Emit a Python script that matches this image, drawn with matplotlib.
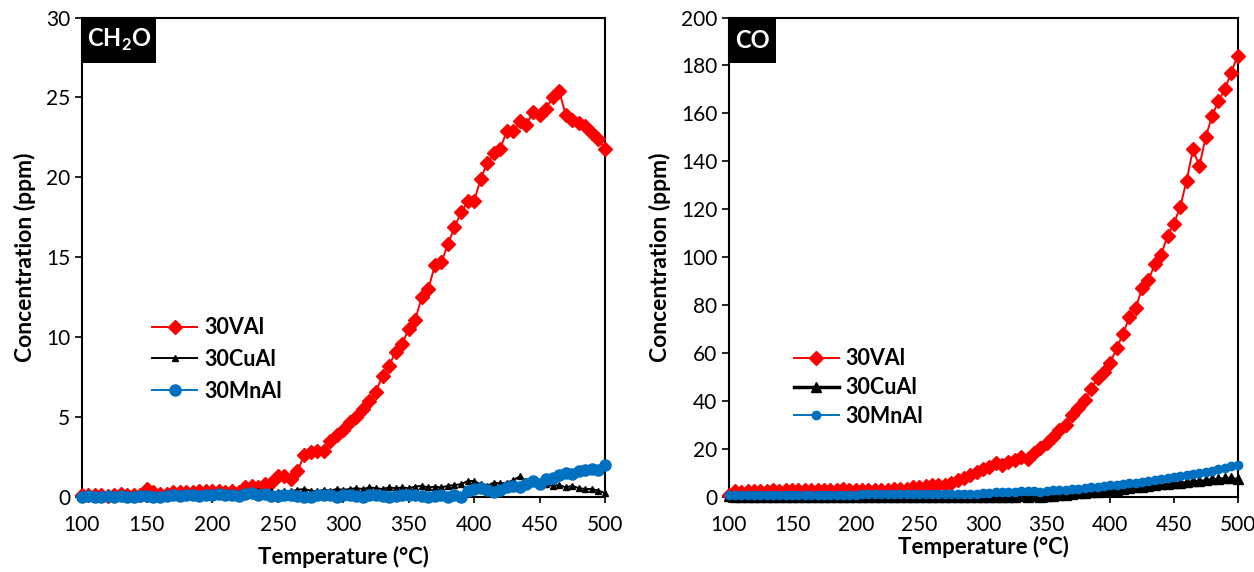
import matplotlib
matplotlib.use('Agg')
import matplotlib.pyplot as plt
from matplotlib.patches import Rectangle

plt.rcParams['font.family'] = ['Lato', 'DejaVu Sans']
plt.rcParams['mathtext.fontset'] = 'custom'
plt.rcParams['mathtext.rm'] = 'Lato'
plt.rcParams['mathtext.bf'] = 'Lato:bold'

# temperature grid (degC)
temp = [100, 105, 110, 115, 120, 125, 130, 135, 140, 145,
        150, 155, 160, 165, 170, 175, 180, 185, 190, 195,
        200, 205, 210, 215, 220, 225, 230, 235, 240, 245,
        250, 255, 260, 265, 270, 275, 280, 285, 290, 295,
        300, 305, 310, 315, 320, 325, 330, 335, 340, 345,
        350, 355, 360, 365, 370, 375, 380, 385, 390, 395,
        400, 405, 410, 415, 420, 425, 430, 435, 440, 445,
        450, 455, 460, 465, 470, 475, 480, 485, 490, 495,
        500]

# CH2O (ppm)
ch2o_v = [0.1, 0.1, 0.1, 0.1, 0.05, 0.1, 0.2, 0.1, 0.1, 0.1,
          0.5, 0.3, 0.2, 0.2, 0.3, 0.3, 0.3, 0.3, 0.4, 0.4,
          0.4, 0.4, 0.3, 0.4, 0.3, 0.6, 0.7, 0.6, 0.8, 0.9,
          1.3, 1.3, 1.1, 1.6, 2.6, 2.8, 2.9, 2.9, 3.5, 3.9,
          4.2, 4.7, 5.0, 5.5, 6.0, 6.6, 7.6, 8.2, 9.1, 9.6,
          10.5, 11.1, 12.5, 13.0, 14.5, 14.7, 15.8, 16.9, 17.8, 18.5,
          18.5, 19.9, 20.9, 21.5, 21.8, 22.9, 22.9, 23.5, 23.3, 24.1,
          23.9, 24.3, 25.0, 25.4, 23.9, 23.6, 23.4, 23.2, 22.8, 22.4,
          21.8]
ch2o_cu = [0.05, 0.05, 0.0, 0.05, 0.0, 0.05, 0.1, 0.05, 0.0, 0.05,
           0.1, 0.05, 0.1, 0.1, 0.15, 0.1, 0.15, 0.2, 0.15, 0.2,
           0.25, 0.2, 0.2, 0.3, 0.25, 0.3, 0.3, 0.35, 0.3, 0.35,
           0.3, 0.4, 0.35, 0.45, 0.5, 0.4, 0.35, 0.45, 0.4, 0.5,
           0.45, 0.5, 0.55, 0.5, 0.6, 0.55, 0.5, 0.6, 0.55, 0.6,
           0.55, 0.65, 0.7, 0.6, 0.65, 0.6, 0.7, 0.75, 0.8, 1.0,
           1.0, 0.8, 0.7, 0.9, 0.85, 0.9, 1.05, 1.3, 1.0, 0.95,
           0.85, 0.8, 0.7, 0.75, 0.6, 0.7, 0.55, 0.5, 0.5, 0.4,
           0.25]
ch2o_mn = [0.0, 0.05, 0.0, 0.0, 0.05, 0.0, 0.05, 0.0, 0.0, 0.05,
           0.05, 0.0, 0.0, 0.05, 0.1, 0.05, 0.1, 0.1, 0.05, 0.1,
           0.15, 0.2, 0.15, 0.1, 0.05, 0.2, 0.25, 0.15, 0.2, 0.05,
           0.05, 0.1, 0.15, 0.05, 0.0, 0.0, 0.1, 0.15, 0.1, 0.0,
           0.1, 0.15, 0.05, 0.0, 0.1, 0.15, 0.05, 0.0, 0.05, 0.1,
           0.15, 0.1, 0.05, 0.0, 0.05, 0.1, 0.0, 0.1, 0.0, 0.35,
           0.5, 0.55, 0.45, 0.3, 0.45, 0.6, 0.7, 0.65, 0.8, 1.0,
           0.8, 1.1, 1.2, 1.4, 1.5, 1.45, 1.6, 1.7, 1.75, 1.7,
           2.0]

# CO (ppm)
co_v = [1.0, 2.5, 2.0, 2.5, 2.5, 2.5, 2.5, 2.8, 2.5, 2.8,
        2.8, 2.8, 2.8, 2.8, 2.8, 2.8, 2.8, 3.0, 3.2, 2.8,
        3.0, 3.0, 3.0, 3.0, 3.0, 3.0, 3.5, 3.5, 3.5, 4.0,
        4.2, 4.5, 5.0, 5.0, 5.2, 6.0, 7.0, 8.0, 9.0, 10.5,
        11.5, 12.5, 14.0, 13.5, 14.5, 15.5, 16.5, 16.0, 18.5, 20.5,
        22.5, 25.0, 28.0, 30.0, 34.0, 37.0, 40.5, 45.0, 49.5, 52.0,
        56.0, 62.0, 68.0, 75.0, 79.0, 87.0, 90.5, 97.0, 101.0, 109.0,
        114.0, 121.0, 132.0, 145.0, 138.0, 150.0, 159.0, 165.0, 170.0, 177.0,
        184.0]
co_cu = [0.5, 0.0, 0.0, 0.0, 0.0, 0.0, 0.0, 0.0, 0.0, 0.0,
         0.0, 0.0, 0.0, 0.0, 0.0, 0.0, 0.0, 0.0, 0.0, 0.0,
         0.0, 0.0, 0.0, 0.0, 0.0, 0.0, 0.0, 0.0, 0.0, 0.0,
         0.0, 0.0, 0.0, 0.0, 0.0, 0.0, 0.0, 0.0, 0.0, 0.0,
         0.1, 0.1, 0.2, 0.1, 0.2, 0.2, 0.3, 0.2, 0.3, 0.2,
         0.3, 0.6, 0.8, 1.0, 1.2, 1.5, 1.8, 2.0, 2.2, 2.5,
         2.8, 3.0, 3.3, 3.6, 4.0, 4.2, 4.5, 5.0, 5.3, 5.5,
         5.8, 6.0, 6.3, 6.5, 6.8, 7.0, 7.3, 7.5, 8.0, 8.0,
         7.5]
co_mn = [1.0, 1.0, 0.8, 1.0, 1.0, 1.0, 1.0, 1.0, 1.0, 1.0,
         1.0, 1.0, 1.0, 1.0, 1.0, 1.0, 1.0, 1.0, 1.0, 1.0,
         1.0, 1.1, 1.1, 1.1, 1.1, 1.2, 1.2, 1.2, 1.2, 1.2,
         1.3, 1.3, 1.3, 1.3, 1.3, 1.4, 1.4, 1.4, 1.4, 1.4,
         1.5, 1.8, 2.0, 2.0, 2.0, 2.2, 2.3, 2.5, 2.5, 2.0,
         2.3, 2.8, 3.0, 3.0, 3.2, 3.5, 3.8, 4.0, 4.2, 4.5,
         4.8, 5.2, 5.5, 5.8, 6.0, 6.3, 6.6, 7.0, 7.3, 7.8,
         8.2, 8.8, 9.2, 9.6, 10.0, 10.5, 11.0, 11.6, 12.2, 12.8,
         13.2]

labels = ['30VAl', '30CuAl', '30MnAl']
red = '#ff0000'
blue = '#0070c0'

fig = plt.figure(figsize=(12.54, 5.72), dpi=100)
ax1 = fig.add_axes([81.5/1254, 75/572, 523.5/1254, 479.5/572])
ax2 = fig.add_axes([728.5/1254, 75/572, 509/1254, 479.5/572])


def panel(ax, v, cu, mn, ymax, ystep, tag, legpos, ms, xlabpad, legsp):
    ax.plot(temp, v, color=red, lw=1.4, marker='D', ms=ms[0], label=labels[0], clip_on=False, zorder=3)
    ax.plot(temp, cu, color='black', lw=1.4, marker='^', ms=ms[1], label=labels[1], clip_on=False, zorder=3)
    ax.plot(temp, mn, color=blue, lw=1.4, marker='o', ms=ms[2], label=labels[2], clip_on=False, zorder=3)
    ax.set_xlim(100, 500)
    ax.set_ylim(0, ymax)
    ax.set_xticks(range(100, 501, 50))
    ax.set_yticks(range(0, ymax + 1, ystep))
    for s in ax.spines.values():
        s.set_linewidth(1.5)
    ax.tick_params(axis='both', direction='out', labelsize=15, width=1.2)
    ax.tick_params(axis='y', length=5, pad=3)
    ax.tick_params(axis='x', length=4, pad=9)
    ax.set_xlabel('Temperature (°C)', fontsize=16, fontweight='bold', labelpad=xlabpad)
    ax.set_ylabel('Concentration (ppm)', fontsize=16.5, fontweight='bold', labelpad=7)
    ax.add_patch(Rectangle((0, 1), tag[1], -0.094, transform=ax.transAxes,
                           facecolor='black', edgecolor='none', zorder=4))
    ax.text(tag[1] / 2, 1 - 0.047, tag[0], transform=ax.transAxes, color='white',
            fontsize=17, fontweight='bold', ha='center', va='center', zorder=5)
    leg = ax.legend(loc='upper left', bbox_to_anchor=legpos, frameon=False, borderpad=0,
                    borderaxespad=0, handlelength=2.1, handletextpad=0.3, labelspacing=legsp,
                    prop={'weight': 'bold', 'size': 15.5})
    return leg


panel(ax1, ch2o_v, ch2o_cu, ch2o_mn, 30, 5, (r'CH$_\mathbf{2}$O', 0.143), (0.135, 0.375),
      (7, 5, 8), 7.5, 0.5)
leg2 = panel(ax2, co_v, co_cu, co_mn, 200, 20, ('CO', 0.094), (0.128, 0.31),
             (7, 7, 6), 0.5, 0.36)
leg2.get_lines()[1].set_linewidth(2.5)

fig.savefig('out.png', dpi=100)
